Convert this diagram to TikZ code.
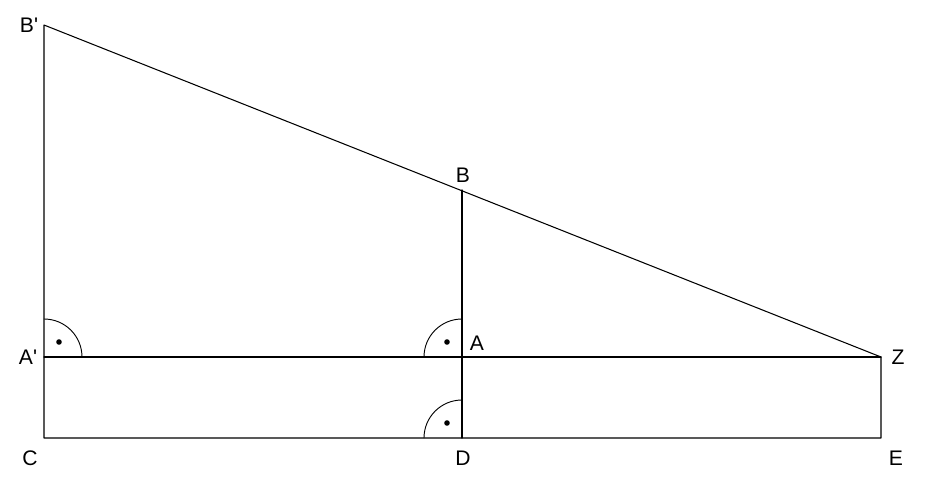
\documentclass[tikz,border=0pt]{standalone}
\usepackage{fontspec}
\setmainfont{Liberation Sans}[Ligatures=TeXOff]
\usetikzlibrary{calc}

\begin{document}
\begin{tikzpicture}[line cap=round,line join=round,x=0.025cm,y=-0.025cm, every node/.style={font=\fontsize{15}{18}\selectfont}]
\useasboundingbox (0,0) rectangle (950,480);
% Points
\coordinate (Bp) at (44,25);
\coordinate (B) at (462,190);
\coordinate (Ap) at (44,357);
\coordinate (A) at (462,357);
\coordinate (Z) at (881,357);
\coordinate (C) at (44,438);
\coordinate (D) at (462,438);
\coordinate (E) at (881,438);

% Draw
\draw [line width=0.75pt] (Bp) -- (Z) -- (E) -- (C) -- cycle;
\draw [line width=0.75pt] (Ap) -- (Z);
\draw [line width=0.75pt] (B) -- (D);

% Right angles
\draw [line width=0.65pt] ($(Ap)+(0,-38)$) arc (-90:0:38);
\draw [line width=0.65pt] ($(A)+(0,-38)$) arc (-90:-180:38);
\draw [line width=0.65pt] ($(D)+(0,-38)$) arc (-90:-180:38);
\fill ($(Ap)+(15,-15)$) circle (0.07cm);
\fill ($(A)+(-15,-15)$) circle (0.07cm);
\fill ($(D)+(-15,-15)$) circle (0.07cm);

% Labels
\node at (29,25) {B'};
\node at (463,175) {B};
\node at (28,357) {A'};
\node at (477,343) {A};
\node at (898,357) {Z};
\node at (30,458) {C};
\node at (463,458) {D};
\node at (896,458) {E};
\end{tikzpicture}
\end{document}
